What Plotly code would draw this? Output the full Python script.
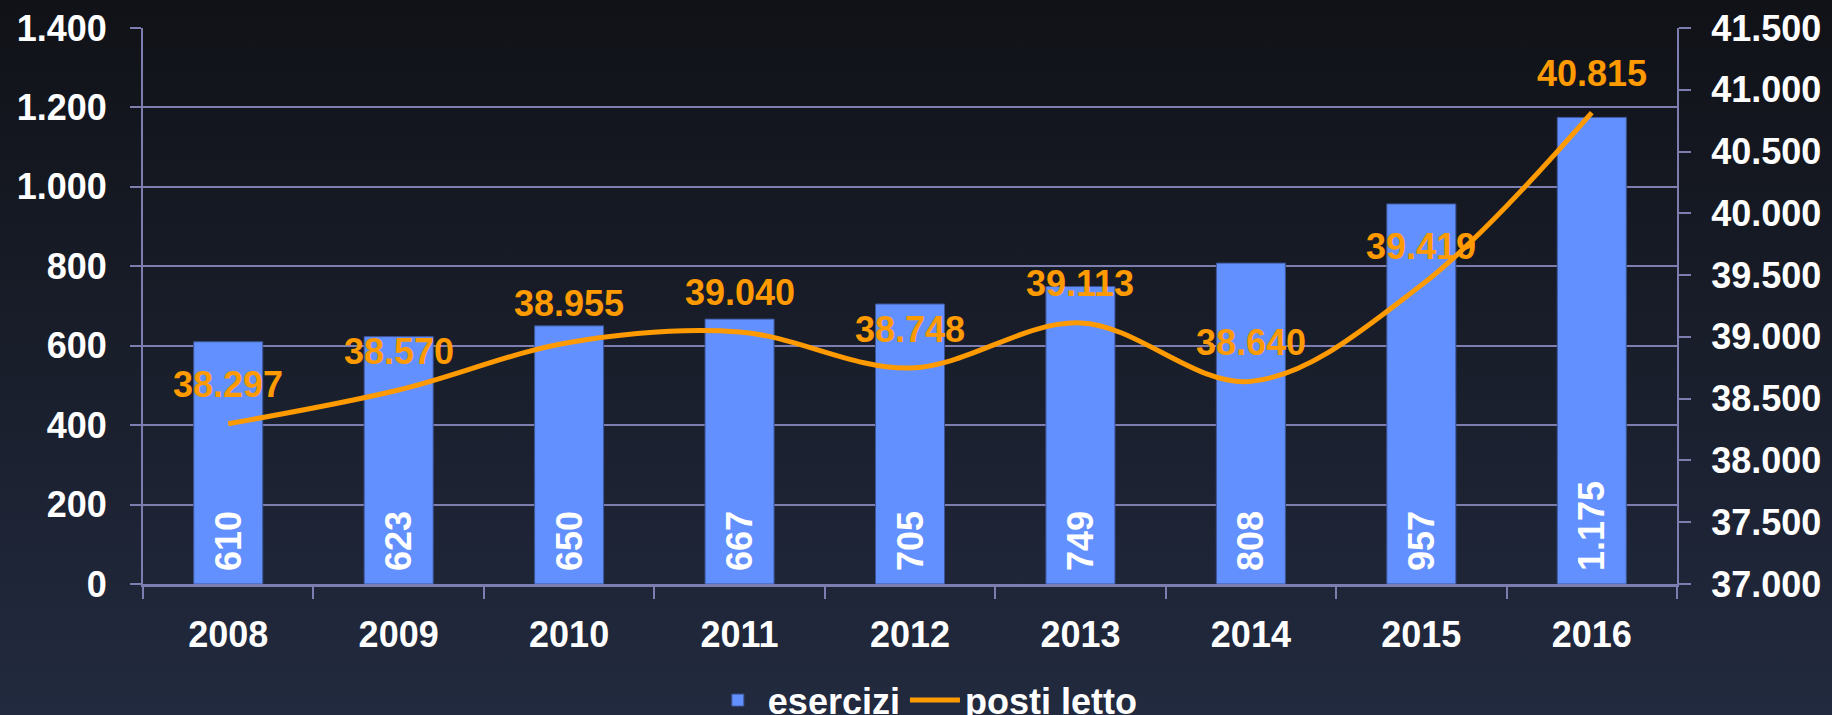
import base64
import plotly.graph_objects as go

years = ["2008", "2009", "2010", "2011", "2012", "2013", "2014", "2015", "2016"]
esercizi = [610, 623, 650, 667, 705, 749, 808, 957, 1175]
posti_letto = [38297, 38570, 38955, 39040, 38748, 39113, 38640, 39419, 40815]
left_ticks = [0, 200, 400, 600, 800, 1000, 1200, 1400]
right_ticks = [37000, 37500, 38000, 38500, 39000, 39500, 40000, 40500, 41000, 41500]

W, H = 1832, 715
ML, MR, MT, MB = 143, 155, 28, 131
PW, PH = W - ML - MR, H - MT - MB

FONT = "Liberation Sans, Arial, sans-serif"
GRID = "#7d7db0"
BAR = "#6290ff"
ORANGE = "#ff9a00"


def it(n):
    return f"{n:,}".replace(",", ".")


svg = (
    '<svg xmlns="http://www.w3.org/2000/svg" width="100" height="100" preserveAspectRatio="none">'
    '<defs><linearGradient id="g" x1="0" y1="0" x2="0" y2="1">'
    '<stop offset="0" stop-color="#101217"/><stop offset="1" stop-color="#222a3f"/>'
    '</linearGradient></defs><rect width="100" height="100" fill="url(#g)"/></svg>'
)
bg_uri = "data:image/svg+xml;base64," + base64.b64encode(svg.encode()).decode()

fig = go.Figure()
fig.add_trace(go.Bar(
    x=years, y=esercizi, name="esercizi",
    marker=dict(color=BAR, line=dict(color="#3d5596", width=1)),
    width=0.405,
    text=["\u00a0" + it(v) for v in esercizi],
    textposition="inside", insidetextanchor="start", textangle=-90,
    insidetextfont=dict(family=FONT, size=36, color="white", weight="bold"),
    constraintext="none",
))
fig.add_trace(go.Scatter(
    x=years, y=posti_letto, name="posti letto", yaxis="y2",
    mode="lines", line=dict(color=ORANGE, width=5, shape="spline", smoothing=1),
))
for i, v in enumerate(posti_letto):
    fig.add_annotation(
        x=i, y=v, xref="x", yref="y2", text=it(v), showarrow=False,
        yshift=39, font=dict(family=FONT, size=36, color=ORANGE, weight="bold"),
    )

fig.update_layout(
    width=W, height=H,
    margin=dict(l=ML, r=MR, t=MT, b=MB, autoexpand=False),
    paper_bgcolor="#181d29", plot_bgcolor="rgba(0,0,0,0)",
    separators=",.",
    showlegend=True,
    legend=dict(
        orientation="h", x=0.51, xanchor="center", y=-0.209, yanchor="middle",
        font=dict(family=FONT, size=36, color="white", weight="bold"),
        bgcolor="rgba(0,0,0,0)", itemwidth=50, tracegroupgap=0,
    ),
    images=[dict(
        source=bg_uri, xref="paper", yref="paper",
        x=-ML / PW, y=1 + MT / PH, sizex=W / PW, sizey=H / PH,
        xanchor="left", yanchor="top", sizing="stretch", layer="below",
    )],
    xaxis=dict(
        type="category", range=[-0.5, len(years) - 0.5],
        showgrid=False, showline=True, linecolor=GRID, linewidth=2.5,
        ticks="outside", tickson="boundaries", ticklen=12, tickwidth=2, tickcolor=GRID,
        tickfont=dict(family=FONT, size=36, color="white", weight="bold"),
        ticklabelstandoff=17, tickangle=0,
    ),
    yaxis=dict(
        range=[0, 1400], tickvals=left_ticks, ticktext=[it(v) for v in left_ticks],
        showgrid=True, gridcolor=GRID, gridwidth=2,
        showline=True, linecolor=GRID, linewidth=2,
        ticks="outside", ticklen=11, tickwidth=2, tickcolor=GRID,
        tickfont=dict(family=FONT, size=36, color="white", weight="bold"),
        ticklabelstandoff=16, zeroline=False,
    ),
    yaxis2=dict(
        range=[37000, 41500], tickvals=right_ticks, ticktext=[it(v) for v in right_ticks],
        overlaying="y", side="right", showgrid=False,
        showline=True, linecolor=GRID, linewidth=2,
        ticks="outside", ticklen=12, tickwidth=2, tickcolor=GRID,
        tickfont=dict(family=FONT, size=36, color="white", weight="bold"),
        ticklabelstandoff=13, zeroline=False,
    ),
)

fig.write_html(
    "out.html",
    config={"displayModeBar": False},
    post_script="document.body.style.margin='0';document.body.style.background='#222a3f';",
)
